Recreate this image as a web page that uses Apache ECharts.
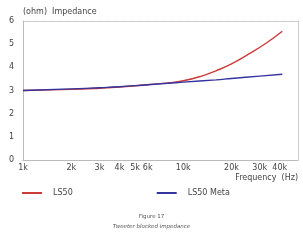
<!DOCTYPE html>
<html>
<head>
<meta charset="utf-8">
<script src="https://cdn.jsdelivr.net/npm/echarts@6/dist/echarts.min.js"></script>
<style>
  html, body { margin: 0; padding: 0; background: #fff; }
  #main { width: 303px; height: 242px; }
</style>
</head>
<body>
<div id="main"></div>
<script>
// frequency (Hz) and impedance (ohm)
const freqLS50 = [1000, 2000, 3000, 4000, 6000, 8000, 10000, 13000, 16000, 20000, 26000, 33000, 41500];
const ohmLS50 = [3.0, 3.05, 3.1, 3.15, 3.25, 3.33, 3.42, 3.62, 3.85, 4.15, 4.6, 5.05, 5.56];
const freqMeta = [1000, 2000, 3000, 4000, 6000, 8000, 10000, 16000, 20000, 30000, 41500];
const ohmMeta = [3.0, 3.07, 3.12, 3.16, 3.25, 3.31, 3.36, 3.46, 3.52, 3.62, 3.7];
const xTicks = [1000, 2000, 3000, 4000, 5000, 6000, 10000, 20000, 30000, 40000];
const seriesNames = ['LS50', 'LS50 Meta'];

const font = 'DejaVu Sans';
const chart = echarts.init(document.getElementById('main'));

const pairs = (xs, ys) => xs.map((x, i) => [x, ys[i]]);

chart.setOption({
  animation: false,
  backgroundColor: '#fff',
  grid: { left: 23, right: 5, top: 21, bottom: 82 },
  legend: {
    left: 17, top: 184,
    itemWidth: 20, itemHeight: 2, icon: 'rect', itemGap: 84,
    textStyle: { fontFamily: font, fontSize: 8, color: '#444', padding: [0, 0, 0, 6] },
    data: seriesNames
  },
  xAxis: [{
    type: 'log', min: 1000, max: 52000, logBase: 10,
    axisLine: { lineStyle: { color: '#bbb' } },
    axisTick: { show: false },
    splitLine: { show: false },
    axisLabel: {
      customValues: xTicks,
      fontFamily: font, fontSize: 8, color: '#444', margin: 4,
      formatter: v => Math.round(v / 1000) + 'k'
    }
  }, {
    type: 'log', min: 1000, max: 52000, position: 'top',
    axisLine: { show: true, onZero: false, lineStyle: { color: '#c4c4c4', type: 'dotted' } },
    axisTick: { show: false }, axisLabel: { show: false }, splitLine: { show: false }
  }],
  yAxis: [{
    type: 'value', min: 0, max: 6, interval: 1,
    name: '(ohm)  Impedance', nameLocation: 'end', nameGap: 5,
    nameTextStyle: { fontFamily: font, fontSize: 8, color: '#444', align: 'left' },
    axisLine: { show: true, lineStyle: { color: '#bbb' } },
    axisTick: { show: false },
    splitLine: { show: false },
    axisLabel: { fontFamily: font, fontSize: 8, color: '#444', margin: 9 }
  }, {
    type: 'value', min: 0, max: 6, position: 'right',
    axisLine: { show: true, lineStyle: { color: '#ccc' } },
    axisTick: { show: false }, axisLabel: { show: false }, splitLine: { show: false }
  }],
  graphic: [
    { type: 'text', right: 5, top: 174,
      style: { text: 'Frequency  (Hz)', font: '8px "DejaVu Sans"', fill: '#444' } },
    { type: 'text', left: 'center', top: 214,
      style: { text: 'Figure 17', font: '5.5px "DejaVu Sans"', fill: '#555' } },
    { type: 'text', left: 'center', top: 224,
      style: { text: 'Tweeter blocked impedance', font: 'italic 5.5px "DejaVu Sans"', fill: '#555' } }
  ],
  series: [{
    name: seriesNames[0], type: 'line', smooth: true, symbol: 'none',
    itemStyle: { color: '#cc3a3a' },
    lineStyle: { width: 1.4, color: '#cc3a3a' },
    data: pairs(freqLS50, ohmLS50)
  }, {
    name: seriesNames[1], type: 'line', smooth: true, symbol: 'none',
    itemStyle: { color: '#3434a0' },
    lineStyle: { width: 1.4, color: '#3434a0' },
    data: pairs(freqMeta, ohmMeta)
  }]
});
</script>
</body>
</html>
